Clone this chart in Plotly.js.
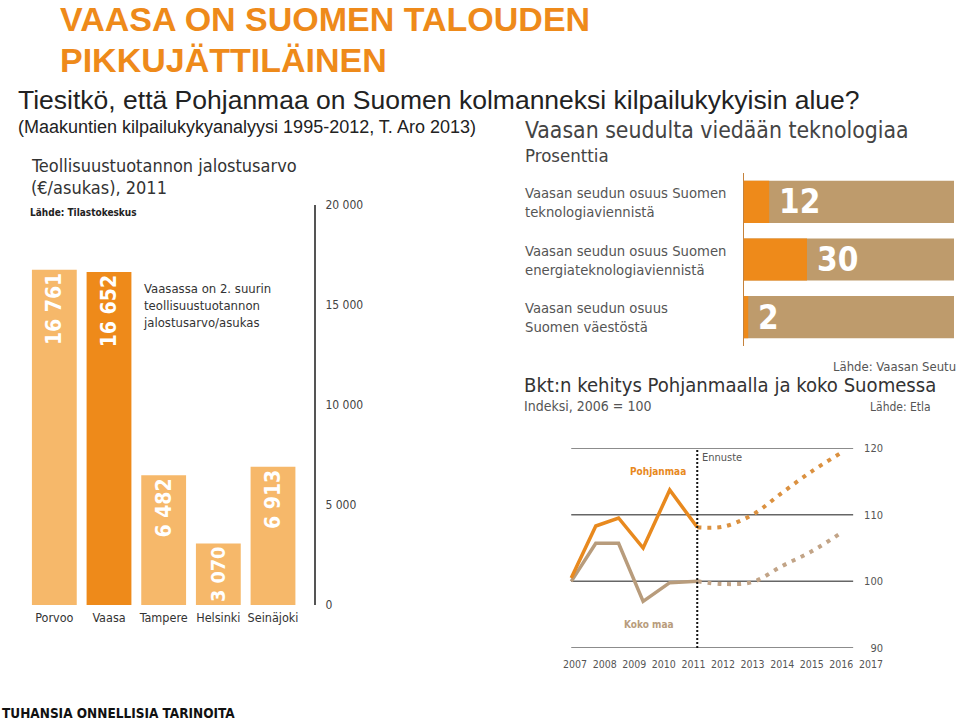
<!DOCTYPE html>
<html>
<head>
<meta charset="utf-8">
<script src="https://cdn.plot.ly/plotly-3.0.1.min.js"></script>
<style>body{margin:0;background:#fff}</style>
</head>
<body>
<div id="chart" style="width:960px;height:722px"></div>
<script>
// teollisuustuotannon jalostusarvo (€/asukas), 2011
var kaupungit = ['Porvoo', 'Vaasa', 'Tampere', 'Helsinki', 'Seinäjoki'];
var jalostusarvo = [16761, 16652, 6482, 3070, 6913];
var arvoTicks = [0, 5000, 10000, 15000, 20000];

// Vaasan seudun osuudet, prosenttia
var osuusNimet = [
  'Vaasan seudun osuus Suomen<br>teknologiaviennistä',
  'Vaasan seudun osuus Suomen<br>energiateknologiaviennistä',
  'Vaasan seudun osuus<br>Suomen väestöstä'
];
var osuudet = [12, 30, 2];
var kokonaisuus = [100, 100, 100];

// bkt-indeksi, 2006 = 100
var vuodet = [2007, 2008, 2009, 2010, 2011, 2012, 2013, 2014, 2015, 2016, 2017];
var vuodetToteutunut = [2006.87, 2007.7, 2008.47, 2009.3, 2010.2, 2011.13];
var pohjanmaa = [100.5, 108.3, 109.5, 105.0, 113.7, 108.1];
var kokoMaa = [100.0, 105.7, 105.7, 97.0, 99.8, 100.0];
var vuodetEnnuste = [2011.13, 2012, 2013, 2014, 2015, 2016];
var pohjanmaaEnnuste = [108.1, 108.2, 110.0, 113.3, 116.5, 119.3];
var kokoMaaEnnuste = [100.0, 99.6, 99.9, 102.3, 104.5, 107.3];
var indeksiTicks = [90, 100, 110, 120];
var ennusteVuosi = 2011.13;

var ORANSSI = '#EE8A1A';
var VAALEA = '#F6B86A';
var RUSKEA = '#BE9B6C';
var KAPEA = 'DejaVu Sans Condensed, Liberation Sans Narrow, Roboto, sans-serif';
var ARIAL = 'Liberation Sans, Arial, sans-serif';

// pikselit -> paper-koordinaatit
function px(x) { return x / 960; }
function py(y) { return 1 - y / 722; }

function tuhannet(v) {
  return String(v).replace(/\B(?=(\d{3})+(?!\d))/g, ' ');
}

// pylväät vasemmalla
var pylvaat = {
  type: 'bar',
  x: kaupungit,
  y: jalostusarvo,
  xaxis: 'x',
  yaxis: 'y',
  width: 0.82,
  marker: { color: kaupungit.map(function (k) { return k === 'Vaasa' ? ORANSSI : VAALEA; }) },
  text: jalostusarvo.map(tuhannet),
  textposition: 'inside',
  insidetextanchor: 'end',
  textangle: -90,
  constraintext: 'inside',
  textfont: { color: '#fff', size: 21, family: KAPEA, weight: 'bold' },
  hoverinfo: 'x+y'
};

// osuudet oikealla ylhäällä
var tausta = {
  type: 'bar',
  orientation: 'h',
  x: kokonaisuus,
  y: osuusNimet,
  xaxis: 'x2',
  yaxis: 'y2',
  width: 0.73,
  marker: { color: RUSKEA },
  hoverinfo: 'skip'
};
var osuus = {
  type: 'bar',
  orientation: 'h',
  x: osuudet,
  y: osuusNimet,
  xaxis: 'x2',
  yaxis: 'y2',
  width: 0.73,
  marker: { color: ORANSSI }
};

// bkt-käyrät
var viivaPohj = {
  x: vuodetToteutunut, y: pohjanmaa, xaxis: 'x3', yaxis: 'y3',
  mode: 'lines', name: 'Pohjanmaa',
  line: { color: '#E8891E', width: 3.5 }
};
var viivaKoko = {
  x: vuodetToteutunut, y: kokoMaa, xaxis: 'x3', yaxis: 'y3',
  mode: 'lines', name: 'Koko maa',
  line: { color: '#B89C7C', width: 3.5 }
};
var ennustePohj = {
  x: vuodetEnnuste, y: pohjanmaaEnnuste, xaxis: 'x3', yaxis: 'y3',
  mode: 'lines', name: 'Pohjanmaa, ennuste',
  line: { color: '#DB9140', width: 4, dash: '4px,6px', shape: 'spline' }
};
var ennusteKoko = {
  x: vuodetEnnuste, y: kokoMaaEnnuste, xaxis: 'x3', yaxis: 'y3',
  mode: 'lines', name: 'Koko maa, ennuste',
  line: { color: '#C2A487', width: 4, dash: '4px,6px', shape: 'spline' }
};

var data = [pylvaat, tausta, osuus, ennusteKoko, ennustePohj, viivaKoko, viivaPohj];

// vaakaviivat indeksikuvaan
var gridAlku = 2006.87, gridLoppu = 2016.4;
var shapes = indeksiTicks.map(function (v) {
  return {
    type: 'line', xref: 'x3', yref: 'y3', layer: 'below',
    x0: gridAlku, x1: gridLoppu, y0: v, y1: v,
    line: { color: '#666', width: 1.5 }
  };
});
shapes.push({
  type: 'line', xref: 'x3', yref: 'y3',
  x0: ennusteVuosi, x1: ennusteVuosi, y0: 90, y1: 120,
  line: { color: '#111', width: 2, dash: '2px,2px' }
});

function teksti(x, y, text, size, color, opts) {
  var a = {
    xref: 'paper', yref: 'paper', x: px(x), y: py(y), text: text,
    showarrow: false, xanchor: 'left', yanchor: 'middle', align: 'left',
    font: { size: size, color: color, family: KAPEA }
  };
  for (var k in opts) {
    if (k === 'family' || k === 'weight') a.font[k] = opts[k];
    else a[k] = opts[k];
  }
  return a;
}

var annotations = [
  teksti(58, 19, 'VAASA ON SUOMEN TALOUDEN', 34, ORANSSI, { family: ARIAL, weight: 'bold' }),
  teksti(58, 60, 'PIKKUJÄTTILÄINEN', 34, ORANSSI, { family: ARIAL, weight: 'bold' }),
  teksti(16, 100, 'Tiesitkö, että Pohjanmaa on Suomen kolmanneksi kilpailukykyisin alue?', 26.5, '#222', { family: ARIAL }),
  teksti(16, 127, '(Maakuntien kilpailukykyanalyysi 1995-2012, T. Aro 2013)', 18, '#222', { family: ARIAL }),

  teksti(29, 165, 'Teollisuustuotannon jalostusarvo', 18, '#333'),
  teksti(29, 187, '(€/asukas), 2011', 18, '#333'),
  teksti(28, 212, 'Lähde: Tilastokeskus', 10, '#222', { weight: 'bold' }),
  teksti(141, 306, 'Vaasassa on 2. suurin<br>teollisuustuotannon<br>jalostusarvo/asukas', 13, '#333'),

  teksti(523, 130, 'Vaasan seudulta viedään teknologiaa', 22.8, '#444'),
  teksti(523, 156, 'Prosenttia', 18.5, '#444'),
  teksti(958, 366, 'Lähde: Vaasan Seutu', 13, '#555', { xanchor: 'right' }),

  teksti(522, 385, 'Bkt:n kehitys Pohjanmaalla ja koko Suomessa', 20.1, '#333'),
  teksti(522, 406, 'Indeksi, 2006 = 100', 14, '#555'),
  teksti(933, 407, 'Lähde: Etla', 12, '#555', { xanchor: 'right' }),

  teksti(0, 713, 'TUHANSIA ONNELLISIA TARINOITA', 13.5, '#111', { weight: 'bold' })
];

// kategoriatekstit ja arvot osuuspalkkeihin
osuusNimet.forEach(function (nimi, i) {
  annotations.push({
    xref: 'paper', yref: 'y2', x: px(523), y: i, text: nimi,
    showarrow: false, xanchor: 'left', yanchor: 'middle', align: 'left',
    font: { size: 14.7, color: '#555', family: KAPEA }
  });
  annotations.push({
    xref: 'x2', yref: 'y2', x: osuudet[i], y: i, text: String(osuudet[i]),
    showarrow: false, xanchor: 'left', yanchor: 'middle', xshift: 8,
    font: { size: 33, color: '#fff', family: KAPEA, weight: 'bold' }
  });
});

// käyrien nimet
annotations.push({
  xref: 'x3', yref: 'y3', x: 2009.8, y: 116.4, text: 'Pohjanmaa', showarrow: false,
  font: { size: 10, color: '#E8891E', family: KAPEA, weight: 'bold' }
});
annotations.push({
  xref: 'x3', yref: 'y3', x: 2009.5, y: 93.6, text: 'Koko maa', showarrow: false,
  font: { size: 10, color: '#B89C7C', family: KAPEA, weight: 'bold' }
});
annotations.push({
  xref: 'x3', yref: 'y3', x: ennusteVuosi, y: 118.6, text: 'Ennuste', showarrow: false,
  xanchor: 'left', xshift: 3,
  font: { size: 11, color: '#555', family: KAPEA }
});

var layout = {
  width: 960,
  height: 722,
  margin: { l: 0, r: 0, t: 0, b: 0 },
  paper_bgcolor: '#fff',
  plot_bgcolor: 'rgba(0,0,0,0)',
  showlegend: false,
  barmode: 'overlay',
  separators: ', ',
  font: { family: KAPEA, color: '#333' },
  xaxis: {
    domain: [px(27), px(314)],
    anchor: 'y',
    type: 'category',
    range: [-0.5, 4.75],
    showgrid: false, zeroline: false, showline: false, ticks: '',
    ticklabelstandoff: 3,
    tickfont: { size: 12.5, color: '#333' }
  },
  yaxis: {
    domain: [py(605), py(205)],
    anchor: 'x',
    side: 'right',
    range: [0, 20000],
    tickvals: arvoTicks,
    tickformat: ',d',
    showgrid: false, zeroline: false,
    showline: true, linecolor: '#555', linewidth: 2,
    ticks: '', ticklabelstandoff: 7,
    tickfont: { size: 12, color: '#444' }
  },
  xaxis2: {
    domain: [px(744), px(954)],
    anchor: 'y2',
    range: [0, 100],
    visible: false
  },
  yaxis2: {
    domain: [py(346), py(173)],
    anchor: 'x2',
    type: 'category',
    autorange: 'reversed',
    showgrid: false, zeroline: false,
    showline: true, linecolor: '#C5823C', linewidth: 1.5,
    showticklabels: false, ticks: ''
  },
  xaxis3: {
    domain: [px(560), px(886)],
    anchor: 'y3',
    range: [2006.49, 2017.51],
    tickvals: vuodet,
    showgrid: false, zeroline: false, showline: false, ticks: '',
    ticklabelstandoff: 8,
    tickfont: { size: 10.5, color: '#555' }
  },
  yaxis3: {
    domain: [py(648), py(448)],
    anchor: 'x3',
    side: 'right',
    range: [90, 120],
    tickvals: indeksiTicks,
    ticklabelposition: 'inside',
    ticklabeloverflow: 'allow',
    showgrid: false, zeroline: false, showline: false, ticks: '',
    tickfont: { size: 11, color: '#555' }
  },
  shapes: shapes,
  annotations: annotations
};

Plotly.newPlot('chart', data, layout, { displayModeBar: false, staticPlot: true });
</script>
</body>
</html>
